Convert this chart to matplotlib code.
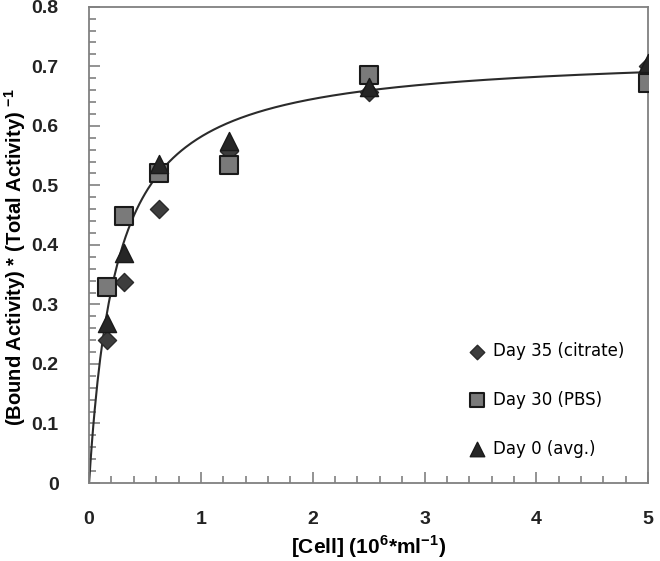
import numpy as np
import matplotlib
matplotlib.use("Agg")
import matplotlib.pyplot as plt
from matplotlib.ticker import MultipleLocator

# cell concentration (10^6 / ml)
cells = [0.156, 0.3125, 0.625, 1.25, 2.5, 5.0]

day35 = [0.240, 0.337, 0.460, 0.558, 0.657, 0.700]
day30 = [0.330, 0.448, 0.521, 0.534, 0.685, 0.672]
day0 = [0.269, 0.386, 0.536, 0.575, 0.665, 0.705]

# one-site binding fit
bmax = 0.724
kd = 0.245

plt.rcParams['font.family'] = ['Liberation Sans', 'DejaVu Sans']
plt.rcParams['mathtext.fontset'] = 'custom'
plt.rcParams['mathtext.rm'] = 'Liberation Sans:bold'

fig = plt.figure(figsize=(6.6, 5.61), dpi=100)
ax = fig.add_axes([0.135, 0.139, 0.847, 0.849])

xfit = np.linspace(0, 5, 400)
ax.plot(xfit, bmax * xfit / (kd + xfit), color="#2b2b2b", lw=1.5, zorder=2)

ax.scatter(cells, day35, marker="D", s=85, color="#3d3d3d", edgecolor="#2a2a2a",
           linewidths=1, label="Day 35 (citrate)", zorder=3)
ax.scatter(cells, day30, marker="s", s=170, color="#7a7a7a", edgecolor="#1a1a1a",
           linewidths=1.5, label="Day 30 (PBS)", zorder=3)
ax.scatter(cells, day0, marker="^", s=170, color="#262626", edgecolor="#1a1a1a",
           linewidths=1, label="Day 0 (avg.)", zorder=4)

ax.set_xlim(0, 5)
ax.set_ylim(0, 0.8)
ax.xaxis.set_major_locator(MultipleLocator(1))
ax.xaxis.set_minor_locator(MultipleLocator(0.2))
ax.yaxis.set_major_locator(MultipleLocator(0.1))
ax.yaxis.set_minor_locator(MultipleLocator(0.02))
ax.yaxis.set_major_formatter(plt.FuncFormatter(lambda v, p: "0" if v == 0 else f"{v:.1f}"))

ax.tick_params(which="both", direction="in", color="#808080", width=1.2)
ax.tick_params(which="major", length=8, labelsize=14, labelcolor="#222222", pad=20)
ax.tick_params(which="minor", length=5)
ax.tick_params(axis="y", which="major", pad=22)
for lab in ax.get_xticklabels() + ax.get_yticklabels():
    lab.set_fontweight("bold")
for s in ax.spines.values():
    s.set_color("#808080")
    s.set_linewidth(1.3)

ax.set_xlabel(r"[Cell] (10$^{6}$*ml$^{-1}$)", fontsize=15, fontweight="bold", labelpad=4)
ax.set_ylabel(r"(Bound Activity) * (Total Activity) $^{-1}$", fontsize=14.5,
              fontweight="bold")
ax.yaxis.set_label_coords(-0.11, 0.475)

ax.legend(loc="lower right", bbox_to_anchor=(0.985, 0.022), frameon=False,
          prop={"family": "DejaVu Sans", "size": 12}, handletextpad=0.0,
          labelspacing=1.85, markerscale=0.8, borderaxespad=0.5)

fig.savefig("out.png", dpi=100)
